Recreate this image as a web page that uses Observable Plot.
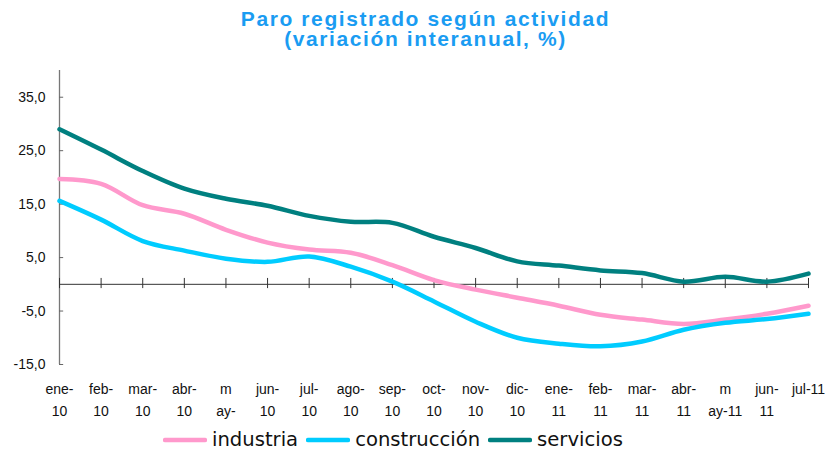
<!DOCTYPE html>
<html>
<head>
<meta charset="utf-8">
<script src="https://cdn.jsdelivr.net/npm/d3@7"></script>
<script src="https://cdn.jsdelivr.net/npm/@observablehq/plot@0.6"></script>
<style>
  html, body { margin: 0; padding: 0; background: #fff; }
  #wrap { width: 827px; height: 453px; position: relative; overflow: hidden; }
  #title { font-family: "Liberation Sans", Arial, sans-serif; font-weight: bold; color: #1a9cf2; font-size: 21px; letter-spacing: 1.6px; text-align: center; line-height: 20px; padding-top: 9px; padding-left: 24px; height: 51px; box-sizing: border-box; }
  #chart { height: 373px; overflow: hidden; }
  #legend { position: absolute; left: 163px; top: 428px; display: flex; align-items: center; font-family: "DejaVu Sans", sans-serif; font-size: 19.6px; color: #111; }
  #legend .item { display: flex; align-items: center; margin-right: 8px; }
  #legend svg { margin-right: 5px; }
</style>
</head>
<body>
<div id="wrap">
  <div id="title">Paro registrado según actividad<br>(variación interanual, %)</div>
  <div id="chart"></div>
  <div id="legend"></div>
</div>
<script>
const months = ["ene-\n10","feb-\n10","mar-\n10","abr-\n10","m\nay-\n10","jun-\n10","jul-\n10","ago-\n10","sep-\n10","oct-\n10","nov-\n10","dic-\n10","ene-\n11","feb-\n11","mar-\n11","abr-\n11","m\nay-11","jun-\n11","jul-11"];
const industria =    [19.7, 18.8, 14.8, 13.2, 10.2, 7.8, 6.5, 5.9, 3.6, 0.8, -1.0, -2.5, -4.0, -5.7, -6.6, -7.4, -6.6, -5.5, -4.0];
const construccion = [15.6, 12.1, 8.1, 6.3, 4.8, 4.2, 5.2, 3.3, 0.5, -3.2, -7.0, -10.0, -11.1, -11.6, -10.7, -8.5, -7.2, -6.5, -5.5];
const servicios =    [29.0, 25.2, 21.2, 17.9, 16.0, 14.7, 12.8, 11.7, 11.5, 8.9, 6.8, 4.3, 3.5, 2.6, 2.1, 0.5, 1.4, 0.5, 2.0];
const yTicks = [-15, -5, 5, 15, 25, 35];

const seriesNames = ["industria", "construcción", "servicios"];
const seriesValues = [industria, construccion, servicios];
const colors = ["#ff99cc", "#00ccff", "#008080"];

const rows = [];
seriesNames.forEach((name, s) => seriesValues[s].forEach((v, i) => rows.push({serie: name, mes: i, valor: v})));
const idx = months.map((_, i) => i);

const fmt = d => d.toFixed(1).replace(".", ",");

const plot = Plot.plot({
  width: 827,
  height: 373,
  marginLeft: 59,
  marginRight: 19,
  marginTop: 19,
  marginBottom: 60,
  style: {fontFamily: "'Liberation Sans', Arial, sans-serif", fontSize: "14px", color: "#111", background: "#fff"},
  x: {domain: [0, months.length - 1]},
  y: {domain: [-15, 40]},
  color: {domain: seriesNames, range: colors},
  marks: [
    Plot.ruleX([0], {stroke: "#777", strokeWidth: 1.3}),
    Plot.axisY({ticks: yTicks, tickFormat: fmt, tickSize: 0, tickPadding: 14, label: null, fontSize: 14}),
    Plot.ruleY(yTicks, {x1: 0, x2: 0.1, y: d => d, stroke: "#666"}),
    Plot.ruleY([0], {stroke: "#333", strokeWidth: 1}),
    Plot.ruleX(idx, {x: d => d, y1: -0.8, y2: 1.1, stroke: "#333"}),
    Plot.axisX({ticks: idx, tickFormat: i => months[i], tickSize: 0, tickPadding: 14, label: null, lineHeight: 1.57, fontSize: 14}),
    Plot.line(rows, {x: "mes", y: "valor", z: "serie", stroke: "serie", strokeWidth: 4.5, curve: "catmull-rom"})
  ]
});
document.getElementById("chart").appendChild(plot);

const legend = document.getElementById("legend");
seriesNames.forEach((name, s) => {
  const item = document.createElement("div");
  item.className = "item";
  item.innerHTML = `<svg width="44" height="8"><line x1="2" y1="4" x2="42" y2="4" stroke="${colors[s]}" stroke-width="4.5" stroke-linecap="round"/></svg><span>${name}</span>`;
  legend.appendChild(item);
});
</script>
</body>
</html>
